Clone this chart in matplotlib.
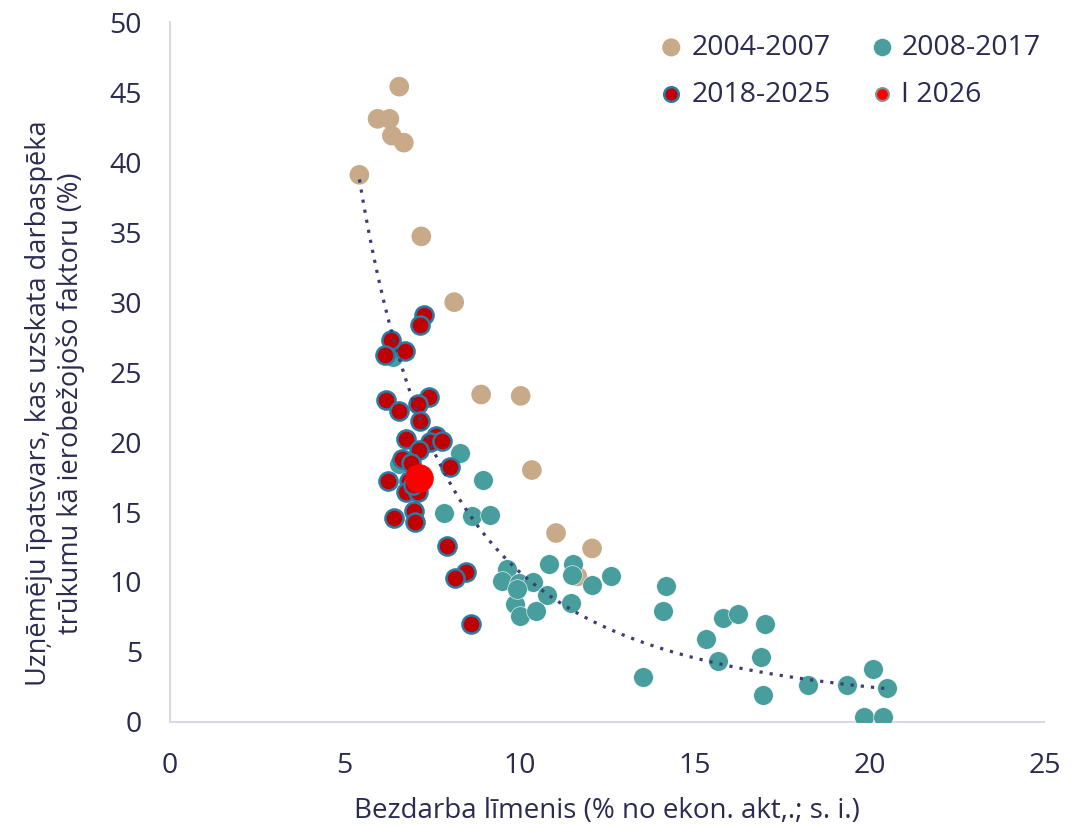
import numpy as np
import matplotlib
matplotlib.use('Agg')
from matplotlib import pyplot as plt

plt.rcParams['font.family'] = ['Open Sans', 'DejaVu Sans']

# 2004-2007 (x = unemployment %, y = share of firms %)
x_0407 = [6.56, 5.94, 6.28, 6.35, 6.69, 5.42, 7.19, 8.13, 8.90, 10.03, 10.35, 11.04, 12.07, 11.65]
y_0407 = [45.4, 43.1, 43.1, 41.9, 41.4, 39.1, 34.7, 30.0, 23.4, 23.3, 18.0, 13.5, 12.4, 10.4]

# 2008-2017
x_0817 = [8.31, 8.94, 7.83, 8.65, 9.15, 6.54, 6.39, 9.63, 9.50, 9.98, 10.39, 10.84, 11.53, 11.49,
          12.08, 10.79, 11.46, 9.86, 10.01, 10.47, 9.93, 12.61, 14.17, 14.10, 15.80, 16.25, 17.02,
          13.54, 15.33, 15.66, 16.91, 16.95, 18.23, 19.35, 20.10, 20.49, 19.83, 20.38]
y_0817 = [19.2, 17.3, 14.9, 14.7, 14.8, 18.4, 26.1, 10.9, 10.1, 9.9, 10.0, 11.3, 11.3, 10.5,
          9.8, 9.1, 8.5, 8.4, 7.6, 7.9, 9.5, 10.4, 9.7, 7.9, 7.45, 7.7, 7.0,
          3.2, 5.95, 4.36, 4.67, 1.93, 2.67, 2.67, 3.76, 2.45, 0.36, 0.36]

# 2018-2025
x_1825 = [7.26, 7.15, 6.32, 6.73, 6.14, 6.18, 6.56, 7.40, 7.09, 7.16, 6.75, 7.62, 7.43, 7.78,
          7.11, 6.65, 6.90, 8.00, 6.23, 6.83, 6.75, 7.09, 6.98, 7.00, 6.40, 7.92, 8.47, 8.14,
          8.62, 6.95]
y_1825 = [29.1, 28.4, 27.3, 26.5, 26.2, 23.0, 22.2, 23.2, 22.7, 21.5, 20.2, 20.4, 20.0, 20.1,
          19.4, 18.8, 18.5, 18.2, 17.2, 17.2, 16.4, 16.4, 15.1, 14.3, 14.6, 12.6, 10.7, 10.3,
          7.0, 16.9]

# I 2026
x_2026 = [7.11]
y_2026 = [17.4]

txt = '#2b2b50'

fig, ax = plt.subplots(figsize=(10.88, 8.26), dpi=100)
fig.subplots_adjust(left=0.156, right=0.960, bottom=0.126, top=0.973)

h1 = ax.scatter(x_0407, y_0407, s=200, c='#c8aa88', edgecolors='none',
                label='2004-2007', zorder=2)
h2 = ax.scatter(x_0817, y_0817, s=200, c='#479e9d', edgecolors='white', linewidths=0.4,
                label='2008-2017', zorder=3)
h3 = ax.scatter(x_1825, y_1825, s=170, c='#c00000', edgecolors='#2a7ca2', linewidths=1.8,
                label='2018-2025', zorder=4)
h4 = ax.scatter(x_2026, y_2026, s=400, c='#ff0000', edgecolors='#ff0000', linewidths=0.5,
                label='I 2026', zorder=5)

# power trend line over all points (Excel style)
all_x = np.array(x_0407 + x_0817 + x_1825 + x_2026)
all_y = np.array(y_0407 + y_0817 + y_1825 + y_2026)
b, ln_a = np.polyfit(np.log(all_x), np.log(all_y), 1)
xs = np.linspace(all_x.min(), all_x.max(), 300)
ax.plot(xs, np.exp(ln_a) * xs ** b, color='#3d3d78', linestyle=(0, (1, 2.2)),
        linewidth=2.3, zorder=6)

ax.set_xlim(0, 25)
ax.set_ylim(0, 50)
ax.set_xticks(range(0, 26, 5))
ax.set_yticks(range(0, 51, 5))
for s in ['top', 'right']:
    ax.spines[s].set_visible(False)
for s in ['left', 'bottom']:
    ax.spines[s].set_color('#d9d9e6')
    ax.spines[s].set_linewidth(1.5)
ax.tick_params(axis='both', length=0, labelsize=20.5, colors=txt)
ax.tick_params(axis='y', pad=20)
ax.tick_params(axis='x', pad=22)

ax.set_xlabel('Bezdarba līmenis (% no ekon. akt,.; s. i.)', fontsize=20, color=txt)
ax.xaxis.set_label_coords(0.5, -0.108)
ax.set_ylabel('Uzņēmēju īpatsvars, kas uzskata darbaspēka\ntrūkumu kā ierobežojošo faktoru (%)',
              fontsize=19.5, color=txt, linespacing=1.15)
ax.yaxis.set_label_coords(-0.097, 0.455)

# row-wise legend order
leg = ax.legend([h1, h3, h2, h4], ['2004-2007', '2018-2025', '2008-2017', 'I 2026'],
                loc='upper right', ncol=2, frameon=False, fontsize=20.5,
                handlelength=0.8, handletextpad=0.3, columnspacing=1.4, labelspacing=0.66,
                bbox_to_anchor=(0.980, 0.990), bbox_transform=fig.transFigure)
for t in leg.get_texts():
    t.set_color(txt)
lh = leg.legend_handles
lh[0].set_sizes([170])
lh[2].set_sizes([170])
lh[1].set_sizes([110])
lh[3].set_sizes([85])
lh[3].set_edgecolor('#8c8c8c')
lh[3].set_linewidth(1.5)

plt.savefig('out.png', dpi=100)
